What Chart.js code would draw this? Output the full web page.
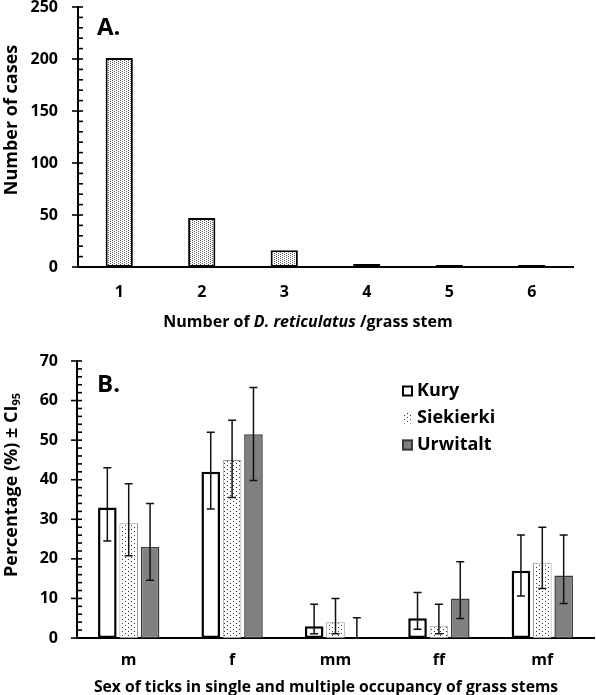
<!DOCTYPE html>
<html><head><meta charset="utf-8">
<script src="https://cdn.jsdelivr.net/npm/chart.js@4/dist/chart.umd.min.js"></script>
<style>
html,body{margin:0;padding:0;background:#fff;width:596px;height:695px;overflow:hidden;position:relative;}
canvas{position:absolute;left:0;}
#cA{top:0}
#cB{top:335px}
</style></head><body>
<canvas id="cA" width="596" height="335"></canvas>
<canvas id="cB" width="596" height="360"></canvas>
<script>
// ---------- Panel A data ----------
const stemCounts = ['1','2','3','4','5','6'];
const casesValues = [201, 47, 16, 3, 2, 2];
const yMaxA = 250, yMajorA = 50, yMinorA = 10;

// ---------- Panel B data ----------
const sexCategories = ['m','f','mm','ff','mf'];
const siteNames = ['Kury','Siekierki','Urwitalt'];
const kuryPct  = [33, 42, 3, 5, 17];
const kuryLow  = [24.5, 32.6, 1.1, 2.2, 10.6];
const kuryHigh = [43, 52, 8.5, 11.5, 26];
const siekPct  = [29, 45, 4, 3, 19];
const siekLow  = [20.8, 35.5, 1.1, 1.1, 12.5];
const siekHigh = [39, 55, 10, 8.5, 28];
const urwPct   = [23, 51.5, 0, 10, 15.8];
const urwLow   = [14.6, 39.8, 0, 4.9, 8.7];
const urwHigh  = [34, 63.3, 5.1, 19.3, 26];
const yMaxB = 70, yMajorB = 10, yMinorB = 2;

const FONT = '"Open Sans", "Noto Sans", "DejaVu Sans", sans-serif';

function makePattern(ctx, w, h, dots, color, bg) {
  const c = document.createElement('canvas'); c.width = w; c.height = h;
  const x = c.getContext('2d');
  x.fillStyle = bg; x.fillRect(0, 0, w, h);
  x.fillStyle = color;
  dots.forEach(d => x.fillRect(d[0], d[1], 1, 1));
  return ctx.createPattern(c, 'repeat');
}

function drawSegs(ctx, segs, cx, baseY) {
  let total = 0;
  segs.forEach(s => { ctx.font = s.font; s.w = ctx.measureText(s.text).width; total += s.w; });
  let x = cx - total / 2;
  ctx.textAlign = 'left'; ctx.textBaseline = 'alphabetic';
  segs.forEach(s => { ctx.font = s.font; ctx.fillText(s.text, x, baseY + (s.dy || 0)); x += s.w; });
}

const axisTicks = {
  id: 'axisTicks',
  afterDraw(chart, args, o) {
    const y = chart.scales.y, ctx = chart.ctx, x0 = chart.chartArea.left;
    ctx.save(); ctx.strokeStyle = '#000'; ctx.lineWidth = 1.6;
    const n = Math.round((y.max - y.min) / o.minor);
    for (let i = 0; i <= n; i++) {
      const v = y.min + i * o.minor;
      const py = y.getPixelForValue(v);
      const major = Math.abs(v / o.major - Math.round(v / o.major)) < 1e-6;
      ctx.beginPath();
      ctx.moveTo(major ? x0 - 6 : x0, py);
      ctx.lineTo(x0 + 5, py);
      ctx.stroke();
    }
    ctx.restore();
  }
};

const textDeco = {
  id: 'textDeco',
  afterDraw(chart, args, o) {
    const ctx = chart.ctx;
    ctx.save(); ctx.fillStyle = '#000';
    ctx.font = 'bold 24px ' + FONT; ctx.textAlign = 'left'; ctx.textBaseline = 'alphabetic';
    ctx.fillText(o.letter[0], o.letter[1], o.letter[2]);
    drawSegs(ctx, o.xTitle, o.xTitlePos[0], o.xTitlePos[1]);
    ctx.save();
    ctx.translate(o.yTitlePos[0], o.yTitlePos[1]);
    ctx.rotate(-Math.PI / 2);
    drawSegs(ctx, o.yTitle, 0, 0);
    ctx.restore();
    ctx.restore();
  }
};

const errorBars = {
  id: 'errorBars',
  afterDatasetsDraw(chart) {
    const ctx = chart.ctx, y = chart.scales.y;
    ctx.save(); ctx.strokeStyle = '#111'; ctx.lineWidth = 1.5;
    chart.data.datasets.forEach((ds, di) => {
      if (!ds.errLow) return;
      const meta = chart.getDatasetMeta(di);
      meta.data.forEach((bar, i) => {
        const x = bar.x, yl = y.getPixelForValue(ds.errLow[i]), yh = y.getPixelForValue(ds.errHigh[i]);
        ctx.beginPath();
        ctx.moveTo(x, yl); ctx.lineTo(x, yh);
        ctx.moveTo(x - 4, yh); ctx.lineTo(x + 4, yh);
        ctx.moveTo(x - 4, yl); ctx.lineTo(x + 4, yl);
        ctx.stroke();
      });
    });
    ctx.restore();
  }
};

const boxLegend = {
  id: 'boxLegend',
  afterDraw(chart, args, o) {
    const ctx = chart.ctx;
    ctx.save();
    chart.data.datasets.forEach((ds, i) => {
      const cy = o.y + i * o.dy;
      const bx = o.x, s = 11;
      ctx.fillStyle = ds.backgroundColor;
      ctx.fillRect(bx, cy - s / 2, s, s);
      if (ds.legendBorder) {
        ctx.strokeStyle = ds.borderColor; ctx.lineWidth = 2;
        ctx.strokeRect(bx + 1, cy - s / 2 + 1, s - 2, s - 2);
      }
      ctx.fillStyle = '#000';
      ctx.font = 'bold 18px ' + FONT;
      ctx.textAlign = 'left'; ctx.textBaseline = 'middle';
      ctx.fillText(ds.label, bx + s + 4, cy);
    });
    ctx.restore();
  }
};

function yAfterFit(w) { return s => { s.width = w; s.paddingTop = 0; s.paddingBottom = 0; }; }
function xAfterFit(h) { return s => { s.height = h; s.paddingLeft = 0; s.paddingRight = 0; }; }

// ---------- Chart A ----------
const ctxA = document.getElementById('cA').getContext('2d');
const patA = makePattern(ctxA, 4, 2, [[0,0],[2,1]], '#555', '#fff');
new Chart(ctxA, {
  type: 'bar',
  data: {
    labels: stemCounts,
    datasets: [{
      data: casesValues, backgroundColor: patA, borderColor: '#000', borderWidth: 2,
      borderSkipped: false, categoryPercentage: 1, barPercentage: 0.33
    }]
  },
  options: {
    responsive: false, animation: false, devicePixelRatio: 1,
    layout: { padding: { top: 7, right: 23, left: 0, bottom: 0 } },
    plugins: {
      legend: { display: false }, tooltip: { enabled: false },
      axisTicks: { major: yMajorA, minor: yMinorA },
      textDeco: {
        letter: ['A.', 97, 35],
        xTitle: [
          { text: 'Number of ', font: 'bold 16px ' + FONT },
          { text: 'D. reticulatus', font: 'italic bold 16px ' + FONT },
          { text: ' /grass stem', font: 'bold 16px ' + FONT }
        ],
        xTitlePos: [308, 327],
        yTitle: [{ text: 'Number of cases', font: 'bold 18px ' + FONT }],
        yTitlePos: [17, 120]
      }
    },
    scales: {
      x: {
        z: 1,
        grid: { display: false, drawTicks: false },
        border: { display: true, color: '#000', width: 2 },
        ticks: { color: '#000', font: { family: FONT, size: 16, weight: 'bold' }, padding: 16 },
        afterFit: xAfterFit(68)
      },
      y: {
        min: 0, max: yMaxA,
        grid: { display: false, drawTicks: false },
        border: { display: true, color: '#000', width: 2 },
        ticks: { stepSize: yMajorA, color: '#000', font: { family: FONT, size: 16, weight: 'bold' }, padding: 20 },
        afterFit: yAfterFit(78)
      }
    }
  },
  plugins: [axisTicks, textDeco]
});

// ---------- Chart B ----------
const ctxB = document.getElementById('cB').getContext('2d');
const patB = makePattern(ctxB, 6, 4, [[2,0],[5,2]], '#333', '#fff');
new Chart(ctxB, {
  type: 'bar',
  data: {
    labels: sexCategories,
    datasets: [
      { label: siteNames[0], data: kuryPct, errLow: kuryLow, errHigh: kuryHigh,
        backgroundColor: '#ffffff', borderColor: '#000', borderWidth: 2.5, legendBorder: true },
      { label: siteNames[1], data: siekPct, errLow: siekLow, errHigh: siekHigh,
        backgroundColor: patB, borderColor: '#999999', borderWidth: 1, legendBorder: false },
      { label: siteNames[2], data: urwPct, errLow: urwLow, errHigh: urwHigh,
        backgroundColor: '#808080', borderColor: '#3a3a3a', borderWidth: 1.5, legendBorder: true }
    ].map(d => Object.assign(d, { borderSkipped: false, categoryPercentage: 0.62, barPercentage: 0.87 }))
  },
  options: {
    responsive: false, animation: false, devicePixelRatio: 1,
    layout: { padding: { top: 26, right: 2, left: 0, bottom: 0 } },
    plugins: {
      legend: { display: false }, tooltip: { enabled: false },
      axisTicks: { major: yMajorB, minor: yMinorB },
      boxLegend: { x: 402, y: 56, dy: 27 },
      textDeco: {
        letter: ['B.', 97, 57],
        xTitle: [{ text: 'Sex of ticks in single and multiple occupancy of grass stems', font: 'bold 15.7px ' + FONT }],
        xTitlePos: [326, 357],
        yTitle: [
          { text: 'Percentage (%) \u00b1 CI', font: 'bold 18px ' + FONT },
          { text: '95', font: 'bold 11px ' + FONT, dy: 3 }
        ],
        yTitlePos: [17, 150]
      }
    },
    scales: {
      x: {
        z: 1,
        grid: { display: false, drawTicks: false },
        border: { display: true, color: '#000', width: 2 },
        ticks: { color: '#000', font: { family: FONT, size: 16, weight: 'bold' }, padding: 13 },
        afterFit: xAfterFit(57)
      },
      y: {
        min: 0, max: yMaxB,
        grid: { display: false, drawTicks: false },
        border: { display: true, color: '#000', width: 2 },
        ticks: { stepSize: yMajorB, color: '#000', font: { family: FONT, size: 16, weight: 'bold' }, padding: 19 },
        afterFit: yAfterFit(77)
      }
    }
  },
  plugins: [axisTicks, errorBars, boxLegend, textDeco]
});
</script>
</body></html>
